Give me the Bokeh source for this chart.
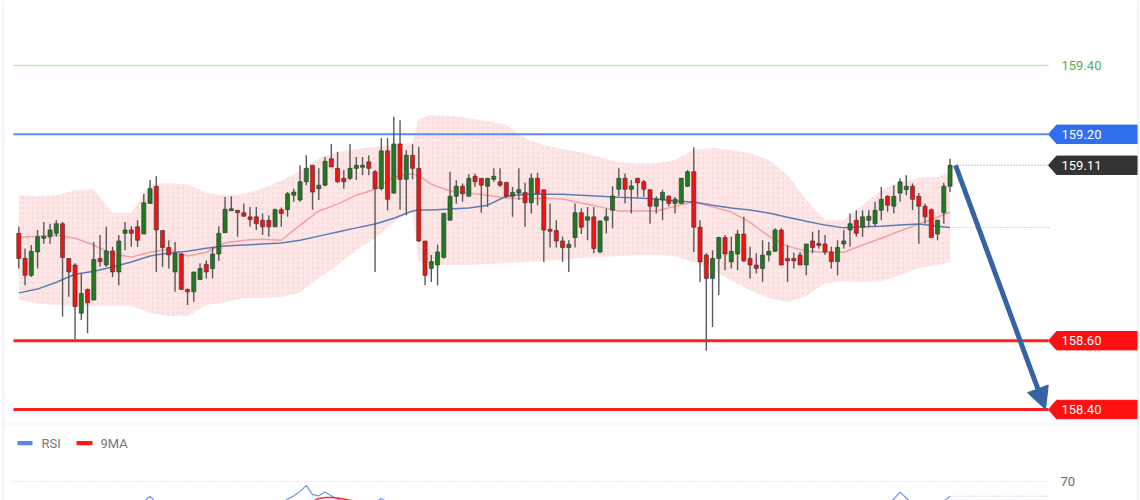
from bokeh.plotting import figure
from bokeh.models import Range1d, Span, Arrow, NormalHead
from bokeh.embed import file_html
from bokeh.resources import INLINE
from bokeh.core.properties import value

# ---------------- data ----------------
opens = [158.912, 158.839, 158.790, 158.858, 158.899, 158.902, 158.912, 158.940, 158.839, 158.820,
         158.680, 158.749, 158.718, 158.839, 158.820, 158.861, 158.800, 158.912, 158.922, 158.931,
         158.910, 158.999, 159.049, 158.920, 158.871, 158.800, 158.852, 158.749, 158.742, 158.778,
         158.822, 158.810, 158.852, 158.914, 158.979, 158.979, 158.972, 158.960, 158.960, 158.950,
         158.950, 158.931, 158.981, 158.981, 159.023, 159.009, 159.062, 159.110, 159.042, 159.052,
         159.129, 159.101, 159.072, 159.072, 159.101, 159.104, 159.120, 159.091, 159.042, 159.152,
         159.029, 159.172, 159.069, 159.139, 159.101, 158.890, 158.810, 158.820, 158.842, 158.950,
         159.020, 159.049, 159.020, 159.078, 159.072, 159.049, 159.069, 159.062, 159.060, 159.020,
         159.029, 159.031, 159.001, 159.072, 159.039, 158.922, 158.920, 158.890, 158.871, 158.900,
         158.972, 158.950, 158.960, 158.858, 158.950, 158.979, 159.040, 159.072, 159.040, 159.072,
         159.062, 159.039, 158.991, 159.009, 159.020, 158.999, 158.999, 159.049, 159.091, 158.930,
         158.849, 158.781, 158.839, 158.900, 158.829, 158.852, 158.910, 158.839, 158.820, 158.810,
         158.849, 158.860, 158.922, 158.839, 158.839, 158.849, 158.820, 158.890, 158.882, 158.881,
         158.858, 158.830, 158.881, 158.922, 158.950, 158.930, 158.950, 158.940, 158.979, 159.020,
         158.991, 159.029, 159.039, 159.049, 159.020, 158.991, 158.981, 158.910, 158.972, 159.049]
highs = [158.931, 158.868, 158.878, 158.922, 158.945, 158.940, 158.950, 158.945, 158.839, 158.825,
         158.795, 158.752, 158.887, 158.907, 158.931, 158.873, 158.907, 158.945, 158.933, 158.950,
         159.027, 159.067, 159.078, 158.920, 158.892, 158.887, 158.854, 158.752, 158.800, 158.825,
         158.834, 158.873, 158.933, 159.018, 159.020, 158.979, 158.999, 158.989, 158.989, 158.970,
         158.965, 158.984, 158.987, 159.032, 159.042, 159.110, 159.139, 159.110, 159.101, 159.134,
         159.172, 159.149, 159.096, 159.172, 159.134, 159.134, 159.139, 159.096, 159.189, 159.189,
         159.251, 159.241, 159.154, 159.171, 159.164, 158.890, 158.849, 158.880, 158.972, 159.091,
         159.067, 159.057, 159.084, 159.086, 159.072, 159.072, 159.101, 159.101, 159.062, 159.047,
         159.101, 159.059, 159.086, 159.088, 159.039, 158.999, 158.950, 158.902, 158.892, 158.999,
         158.984, 158.989, 158.989, 158.950, 158.984, 159.049, 159.101, 159.086, 159.067, 159.072,
         159.067, 159.039, 159.020, 159.039, 159.023, 159.018, 159.072, 159.096, 159.162, 158.950,
         158.854, 158.863, 158.902, 158.907, 158.902, 158.922, 158.960, 158.873, 158.854, 158.892,
         158.887, 158.927, 158.927, 158.878, 158.856, 158.858, 158.882, 158.917, 158.922, 158.907,
         158.873, 158.892, 158.922, 158.970, 158.979, 158.979, 158.979, 159.004, 159.047, 159.023,
         159.052, 159.072, 159.081, 159.057, 159.029, 158.999, 158.984, 158.952, 159.059, 159.129]
lows = [158.810, 158.761, 158.785, 158.810, 158.882, 158.882, 158.902, 158.670, 158.728, 158.605,
        158.660, 158.622, 158.718, 158.815, 158.815, 158.785, 158.761, 158.863, 158.873, 158.873,
        158.910, 158.999, 158.800, 158.815, 158.810, 158.742, 158.749, 158.704, 158.713, 158.776,
        158.781, 158.781, 158.832, 158.914, 158.979, 158.902, 158.960, 158.931, 158.922, 158.907,
        158.902, 158.931, 158.931, 158.960, 159.004, 159.004, 159.052, 158.981, 159.009, 159.049,
        159.105, 159.059, 159.042, 159.067, 159.067, 159.081, 159.081, 158.800, 159.037, 158.979,
        159.027, 158.981, 158.965, 159.069, 158.887, 158.761, 158.771, 158.761, 158.839, 158.950,
        158.999, 159.004, 159.020, 159.047, 158.972, 158.989, 159.062, 159.047, 159.014, 158.960,
        159.009, 158.931, 158.970, 158.994, 158.829, 158.871, 158.871, 158.829, 158.800, 158.871,
        158.910, 158.892, 158.854, 158.854, 158.912, 158.927, 159.021, 158.999, 158.970, 159.018,
        159.018, 158.940, 158.970, 158.950, 158.991, 158.970, 158.999, 159.047, 158.858, 158.771,
        158.571, 158.640, 158.733, 158.805, 158.810, 158.805, 158.829, 158.780, 158.795, 158.771,
        158.830, 158.858, 158.820, 158.771, 158.810, 158.820, 158.790, 158.854, 158.868, 158.849,
        158.810, 158.790, 158.868, 158.873, 158.902, 158.902, 158.930, 158.931, 158.950, 158.975,
        158.970, 159.004, 159.023, 158.979, 158.882, 158.940, 158.900, 158.892, 158.940, 159.032]
closes = [158.839, 158.790, 158.860, 158.902, 158.902, 158.922, 158.940, 158.842, 158.800, 158.699,
          158.737, 158.710, 158.836, 158.830, 158.861, 158.800, 158.890, 158.922, 158.912, 158.892,
          159.001, 159.042, 158.922, 158.871, 158.849, 158.854, 158.749, 158.742, 158.800, 158.810,
          158.800, 158.852, 158.912, 158.982, 158.982, 158.972, 158.962, 158.952, 158.940, 158.931,
          158.931, 158.981, 158.970, 159.027, 159.032, 159.062, 159.101, 159.032, 159.052, 159.122,
          159.105, 159.062, 159.062, 159.101, 159.110, 159.110, 159.101, 159.042, 159.152, 159.011,
          159.172, 159.069, 159.139, 159.101, 158.890, 158.790, 158.830, 158.858, 158.970, 159.020,
          159.049, 159.027, 159.072, 159.062, 159.052, 159.072, 159.078, 159.052, 159.020, 159.031,
          159.039, 159.001, 159.072, 159.028, 158.922, 158.920, 158.890, 158.871, 158.880, 158.972,
          158.930, 158.960, 158.868, 158.948, 158.960, 159.021, 159.072, 159.040, 159.050, 159.059,
          159.040, 158.991, 159.011, 159.031, 158.999, 159.011, 159.072, 159.091, 158.930, 158.829,
          158.781, 158.839, 158.900, 158.852, 158.860, 158.910, 158.832, 158.820, 158.810, 158.849,
          158.860, 158.922, 158.820, 158.832, 158.832, 158.820, 158.881, 158.871, 158.878, 158.858,
          158.830, 158.871, 158.890, 158.940, 158.912, 158.960, 158.962, 158.979, 159.011, 158.994,
          159.020, 159.062, 159.049, 159.011, 158.991, 158.960, 158.900, 158.950, 159.049, 159.110]

# Bollinger band and moving averages (sampled candles)
band_idx = [0, 3, 6, 9, 12, 15, 18, 21, 24, 27, 30, 33, 36, 39, 42, 45, 48, 51, 54, 57, 60, 63, 64,
            66, 69, 72, 75, 78, 81, 84, 87, 90, 93, 96, 99, 102, 105, 108, 111, 114, 117, 120, 123,
            126, 129, 132, 135, 138, 141, 144, 147, 149]
band_upper = [159.023, 159.020, 159.023, 159.037, 159.040, 158.971, 158.971, 159.055, 159.058, 159.055,
              159.029, 159.023, 159.026, 159.043, 159.064, 159.093, 159.130, 159.148, 159.157, 159.163,
              159.169, 159.175, 159.244, 159.256, 159.253, 159.247, 159.238, 159.227, 159.188, 159.169,
              159.157, 159.148, 159.133, 159.119, 159.116, 159.116, 159.125, 159.154, 159.160, 159.154,
              159.145, 159.125, 159.081, 159.009, 158.950, 158.950, 158.994, 159.037, 159.061, 159.073,
              159.076, 159.090]
band_lower = [158.718, 158.709, 158.704, 158.701, 158.701, 158.701, 158.701, 158.681, 158.672, 158.672,
              158.704, 158.712, 158.724, 158.724, 158.727, 158.741, 158.782, 158.820, 158.863, 158.898,
              158.944, 158.980, 158.829, 158.820, 158.820, 158.820, 158.823, 158.826, 158.829, 158.832,
              158.835, 158.841, 158.843, 158.846, 158.849, 158.849, 158.846, 158.829, 158.805, 158.776,
              158.747, 158.724, 158.712, 158.730, 158.767, 158.773, 158.770, 158.773, 158.791, 158.811,
              158.820, 158.829]
ma_red = [158.901, 158.904, 158.907, 158.898, 158.878, 158.852, 158.843, 158.857, 158.866, 158.846,
          158.857, 158.884, 158.892, 158.895, 158.892, 158.936, 158.977, 158.997, 159.023, 159.040,
          159.076, 159.085, 159.079, 159.055, 159.035, 159.029, 159.023, 159.015, 159.012, 159.015,
          159.012, 159.000, 158.989, 158.977, 158.977, 158.977, 158.991, 159.003, 158.989, 158.974,
          158.944, 158.904, 158.875, 158.860, 158.857, 158.857, 158.878, 158.898, 158.919, 158.939,
          158.959, 158.974]
ma_blue = [158.739, 158.750, 158.770, 158.793, 158.802, 158.814, 158.829, 158.846, 158.855, 158.860,
           158.869, 158.875, 158.878, 158.881, 158.884, 158.892, 158.904, 158.916, 158.928, 158.939,
           158.956, 158.977, 158.980, 158.980, 158.983, 158.986, 158.994, 159.020, 159.026, 159.026,
           159.026, 159.023, 159.020, 159.017, 159.015, 159.012, 159.006, 159.003, 158.994, 158.986,
           158.980, 158.971, 158.959, 158.947, 158.936, 158.928, 158.931, 158.933, 158.936, 158.939,
           158.933, 158.929]

# price levels
level_green = 159.40
level_blue = 159.20
level_last = 159.11
levels_red = [158.60, 158.40]
arrow_target = 158.40

# RSI (only the parts visible above the cut) and its 9MA
rsi_idx = [[19, 20, 21, 22, 23], [42, 43, 44, 45, 46, 47, 48, 49, 50, 51, 52, 53],
           [56, 57, 58, 59, 60], [139, 140, 141, 142, 143], [147, 148, 149]]
rsi_val = [[48, 52, 56.5, 51, 47], [50, 54, 57, 61, 66.5, 58, 57, 60.5, 57, 54, 52, 50],
           [48, 51, 54.5, 51, 48], [50, 54, 60.3, 55, 50], [47, 52, 56.6]]
rsi_ma_idx = [46, 47, 48, 49, 50, 51, 52, 53, 54, 55]
rsi_ma_val = [50, 52, 54.5, 55.5, 55.5, 55, 54, 53, 52, 50]
rsi_level = 70
rsi_last = 56.6

legend_labels = ["RSI", "9MA"]

# ---------------- layout constants (pixels) ----------------
W, H = 1140, 500
X0_PX, STEP_PX = 18.3, 6.25          # first candle x, candle spacing
REF_PY, REF_PRICE, PPU = 65.0, 159.40, 344.0
RSI_PY, RSI_PPU = 481.0, 1.1


def px_x(px):
    return (px - X0_PX) / STEP_PX


def py_price(py):
    return REF_PRICE - (py - REF_PY) / PPU


x_rng = Range1d(px_x(0), px_x(W))
y_rng = Range1d(py_price(H), py_price(0))

p = figure(width=W, height=H, x_range=x_rng, y_range=y_rng, output_backend="svg",
           toolbar_location=None, x_axis_type=None, y_axis_type=None, min_border=0,
           styles={"position": "absolute", "left": "0px", "top": "0px"})
p.outline_line_color = None
p.grid.grid_line_color = None
p.background_fill_color = "#ffffff"
p.border_fill_color = "#ffffff"
p.extra_y_ranges = {"rsi": Range1d(rsi_level - (H - RSI_PY) / RSI_PPU, rsi_level + RSI_PY / RSI_PPU)}

# frame borders
for bx in (2.5, 1137.5):
    p.add_layout(Span(location=px_x(bx), dimension="height", line_color="#e4e9f0", line_width=1))

# Bollinger band
p.varea(x=band_idx, y1=band_lower, y2=band_upper, fill_color="#fde6e6", fill_alpha=1.0,
        hatch_pattern="dot", hatch_color="#f4c0c0", hatch_scale=5, hatch_alpha=0.35)
p.line(band_idx, ma_red, line_color="#f5a0a0", line_width=1.5)
p.line(band_idx, ma_blue, line_color="#5a7db8", line_width=1.5)

# horizontal levels
lx0, lx1 = px_x(13), px_x(1048)
p.segment(x0=[lx0], y0=[level_green], x1=[lx1], y1=[level_green], line_color="#bfe3b4", line_width=1.5)
p.segment(x0=[lx0], y0=[level_blue], x1=[lx1], y1=[level_blue], line_color="#5a8cf0", line_width=2)
p.segment(x0=[lx0] * 2, y0=levels_red, x1=[lx1] * 2, y1=levels_red, line_color="#ff1f1f", line_width=3)

# candles
N = len(opens)
idx = list(range(N))
MIN_BODY = 2.0 / PPU
tops, bots, cols = [], [], []
for o, c in zip(opens, closes):
    t, b = max(o, c), min(o, c)
    if t - b < MIN_BODY:
        m = (t + b) / 2
        t, b = m + MIN_BODY / 2, m - MIN_BODY / 2
    tops.append(t)
    bots.append(b)
    cols.append("#217a21" if c >= o else "#f21313")
p.segment(x0=idx, y0=lows, x1=idx, y1=highs, line_color="#5a5a5a", line_width=1.4)
p.vbar(x=idx, width=0.66, top=tops, bottom=bots, fill_color=cols, line_color="#333333", line_width=0.6)

# dotted guides at last price / last blue MA
p.segment(x0=[px_x(956)], y0=[level_last], x1=[px_x(1048)], y1=[level_last],
          line_color="#8c8c8c", line_width=1, line_dash="1 2")
p.segment(x0=[px_x(952)], y0=[ma_blue[-1]], x1=[px_x(1050)], y1=[ma_blue[-1]],
          line_color="#9fb5e6", line_width=1, line_dash="1 2")

# arrow
p.add_layout(Arrow(end=NormalHead(size=22, fill_color="#3564a4", line_color="#3564a4"),
                   x_start=px_x(955), y_start=level_last, x_end=px_x(1045), y_end=arrow_target,
                   line_color="#3564a4", line_width=5))

# price tags
HALF = 9.2 / PPU
tag_levels = [level_blue, level_last] + levels_red
tag_colors = ["#2f6ff0", "#333333", "#ff1010", "#ff1010"]
tx_tip, tx_l, tx_r = px_x(1048), px_x(1056), px_x(1137)
xs, ys = [], []
for lv in tag_levels:
    xs.append([tx_tip, tx_l, tx_r, tx_r, tx_l])
    ys.append([lv, lv + HALF, lv + HALF, lv - HALF, lv - HALF])
p.patches(xs, ys, fill_color=tag_colors, line_color=tag_colors)
p.text(x=[px_x(1061)] * 4, y=tag_levels, text=["%.2f" % v for v in tag_levels], text_color="#ffffff",
       text_font=value("Roboto"), text_font_size="13px", text_baseline="middle")
p.text(x=[px_x(1061)], y=[level_green], text=["%.2f" % level_green], text_color="#5aae3c",
       text_font=value("Roboto"), text_font_size="13px", text_baseline="middle")

# separator between price and RSI panes
p.segment(x0=[px_x(0)], y0=[py_price(423.5)], x1=[px_x(W)], y1=[py_price(423.5)],
          line_color="#e2e6ee", line_width=1, line_dash="1 1")

# RSI legend
p.quad(left=[px_x(17), px_x(76)], right=[px_x(32), px_x(92)], top=[py_price(440.5)] * 2,
       bottom=[py_price(444.8)] * 2, fill_color=["#5b86e5", "#ff1a1a"], line_color=None)
p.text(x=[px_x(41), px_x(100)], y=[py_price(442.5)] * 2, text=legend_labels, text_color="#777777",
       text_font=value("Roboto"), text_font_size="13px", text_baseline="middle")

# RSI pane
p.segment(x0=[px_x(13)], y0=[rsi_level], x1=[px_x(1047)], y1=[rsi_level], y_range_name="rsi",
          line_color="#c9d1e3", line_width=1, line_dash="1 2")
p.text(x=[px_x(1060)], y=[rsi_level], text=[str(rsi_level)], text_color="#666666", y_range_name="rsi",
       text_font=value("Roboto"), text_font_size="13px", text_baseline="middle")
p.multi_line(xs=rsi_idx, ys=rsi_val, y_range_name="rsi", line_color="#6f93ef", line_width=1.2)
p.line(rsi_ma_idx, rsi_ma_val, y_range_name="rsi", line_color="#ff3030", line_width=1.5)
p.segment(x0=[px_x(950)], y0=[rsi_last], x1=[px_x(1048)], y1=[rsi_last], y_range_name="rsi",
          line_color="#9fb5e6", line_width=1, line_dash="1 2")

open("out.html", "w").write(file_html(p, INLINE))
